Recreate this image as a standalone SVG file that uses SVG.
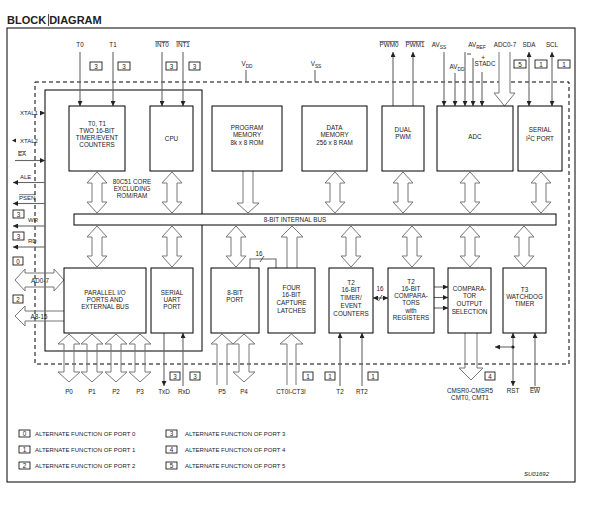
<svg xmlns="http://www.w3.org/2000/svg" width="589" height="506" viewBox="0 0 589 506">
<defs>
<style>
.t{font-family:"Liberation Sans",Arial,sans-serif;font-size:6.3px;fill:#222;text-anchor:middle}
.l{font-family:"Liberation Sans",Arial,sans-serif;font-size:6px;fill:#222}
.blk{fill:#fff;stroke:#000;stroke-width:1}
.ha{fill:#fff;stroke:#777;stroke-width:1}
.hn{fill:none;stroke:#777;stroke-width:1}
.sig{stroke:#666;stroke-width:1.1;fill:none}
.dash{fill:none;stroke:#000;stroke-width:1;stroke-dasharray:4,3}
.tag{fill:#fff;stroke:#000;stroke-width:0.8}
.ov{text-decoration:overline}
</style>
<marker id="ah" viewBox="0 0 10 10" refX="10" refY="5" markerWidth="5" markerHeight="5" orient="auto-start-reverse" markerUnits="userSpaceOnUse">
<path d="M0,0 L10,5 L0,10 z" fill="#222"/>
</marker>
</defs>
<rect width="589" height="506" fill="#fff"/>
<text x="7" y="24" style="font-family:'Liberation Sans',Arial,sans-serif;font-size:11px;font-weight:bold;fill:#222">BLOCK DIAGRAM</text>
<line x1="48.5" y1="14" x2="48.5" y2="26" stroke="#222" stroke-width="0.8"/>
<rect x="7" y="28" width="568" height="454" fill="none" stroke="#000" stroke-width="1"/>
<rect class="dash" x="35" y="82" width="534" height="282"/>
<g id="core"><rect x="45" y="90" width="157" height="261" fill="none" stroke="#000" stroke-width="1"/>
<text class="t" x="132" y="184">80C51 CORE</text><text class="t" x="132" y="191">EXCLUDING</text><text class="t" x="132" y="198">ROM/RAM</text></g>

<g id="connectors">
<line class="sig" x1="80" y1="52" x2="80" y2="106" marker-end="url(#ah)"/>
<line class="sig" x1="113" y1="52" x2="113" y2="106" marker-end="url(#ah)"/>
<line class="sig" x1="162" y1="52" x2="162" y2="106" marker-end="url(#ah)"/>
<line class="sig" x1="183" y1="52" x2="183" y2="106" marker-end="url(#ah)"/>
<line class="sig" x1="246" y1="70" x2="246" y2="82"/>
<line class="sig" x1="315" y1="70" x2="315" y2="82"/>
<line class="sig" x1="393" y1="106" x2="393" y2="52" marker-end="url(#ah)"/>
<line class="sig" x1="413" y1="106" x2="413" y2="52" marker-end="url(#ah)"/>
<line class="sig" x1="444" y1="52" x2="444" y2="106" marker-end="url(#ah)"/>
<line class="sig" x1="455" y1="73" x2="455" y2="106" marker-end="url(#ah)"/>
<line class="sig" x1="465" y1="52" x2="465" y2="106" marker-end="url(#ah)"/>
<line class="sig" x1="473" y1="58" x2="473" y2="106" marker-end="url(#ah)"/>
<line class="sig" x1="482" y1="72" x2="482" y2="106" marker-end="url(#ah)"/>
<path class="ha" d="M499,52 V93 H494 L504.5,106 L515,93 H510 V52"/>
<line class="sig" x1="529" y1="52" x2="529" y2="106" marker-start="url(#ah)" marker-end="url(#ah)"/>
<line class="sig" x1="552" y1="52" x2="552" y2="106" marker-start="url(#ah)" marker-end="url(#ah)"/>
<line class="sig" x1="40" y1="113" x2="45" y2="113" marker-end="url(#ah)"/>
<path d="M12,140.5 L16,138.5 L16,142.5 z" fill="#222"/>
<line class="sig" x1="15" y1="160.5" x2="45" y2="160.5" marker-end="url(#ah)"/>
<line class="sig" x1="45" y1="182.5" x2="13" y2="182.5" marker-end="url(#ah)"/>
<line class="sig" x1="45" y1="203.5" x2="13" y2="203.5" marker-end="url(#ah)"/>
<line class="sig" x1="45" y1="226" x2="13" y2="226" marker-end="url(#ah)"/>
<line class="sig" x1="45" y1="247" x2="13" y2="247" marker-end="url(#ah)"/>
<path class="hn" d="M15,280 L25,269 V273 H54 V269 L64,280 L54,291 V287 H25 V291 Z"/>
<path class="hn" d="M64,311 H25 V306 L15,316 L25,326 V321 H64"/>
<path class="ha" d="M97,172 L107,183 H102 V202 H107 L97,213 L87,202 H92 V183 H87 Z"/>
<path class="ha" d="M172,172 L182,183 H177 V202 H182 L172,213 L162,202 H167 V183 H162 Z"/>
<path class="ha" d="M243,171 V203 H237 L248,213 L259,203 H253 V171"/>
<path class="ha" d="M335,172 L345,183 H340 V202 H345 L335,213 L325,202 H330 V183 H325 Z"/>
<path class="ha" d="M403,172 L413,183 H408 V202 H413 L403,213 L393,202 H398 V183 H393 Z"/>
<path class="ha" d="M470,172 L480,183 H475 V202 H480 L470,213 L460,202 H465 V183 H460 Z"/>
<path class="ha" d="M541,172 L551,183 H546 V202 H551 L541,213 L531,202 H536 V183 H531 Z"/>
<path class="ha" d="M97,226 L107,237 H102 V256 H107 L97,267 L87,256 H92 V237 H87 Z"/>
<path class="ha" d="M172,226 L182,237 H177 V256 H182 L172,267 L162,256 H167 V237 H162 Z"/>
<path class="ha" d="M236,226 L246,237 H241 V256 H246 L236,267 L226,256 H231 V237 H226 Z"/>
<path class="ha" d="M287,268 V237 H281 L292,226 L303,237 H297 V268"/>
<path class="ha" d="M351,226 L361,237 H356 V256 H361 L351,267 L341,256 H346 V237 H341 Z"/>
<path class="ha" d="M412,226 L422,237 H417 V256 H422 L412,267 L402,256 H407 V237 H402 Z"/>
<path class="ha" d="M470,226 L480,237 H475 V256 H480 L470,267 L460,256 H465 V237 H460 Z"/>
<path class="ha" d="M524,226 L534,237 H529 V256 H534 L524,267 L514,256 H519 V237 H514 Z"/>
<path class="hn" d="M69,334 L80,344 H74 V372 H80 L69,382 L58,372 H64 V344 H58 Z"/>
<path class="hn" d="M92,334 L103,344 H97 V372 H103 L92,382 L81,372 H87 V344 H81 Z"/>
<path class="hn" d="M116,334 L127,344 H121 V372 H127 L116,382 L105,372 H111 V344 H105 Z"/>
<path class="hn" d="M140,334 L151,344 H145 V372 H151 L140,382 L129,372 H135 V344 H129 Z"/>
<line class="sig" x1="164" y1="333" x2="164" y2="386" marker-end="url(#ah)"/>
<line class="sig" x1="183" y1="386" x2="183" y2="333" marker-end="url(#ah)"/>
<path class="hn" d="M217,385 V344 H211 L222,334 L233,344 H227 V385"/>
<path class="hn" d="M244,334 L255,344 H249 V372 H255 L244,382 L233,372 H239 V344 H233 Z"/>
<path class="hn" d="M287,385 V344 H280 L291.5,334 L303,344 H296 V385"/>
<path class="sig" d="M250,268 V259 H276 V268"/>
<line x1="260" y1="262" x2="264" y2="256" stroke="#333" stroke-width="0.8"/>
<line class="sig" x1="340" y1="386" x2="340" y2="333" marker-end="url(#ah)"/>
<line class="sig" x1="362" y1="386" x2="362" y2="333" marker-end="url(#ah)"/>
<line class="sig" x1="373" y1="298" x2="388" y2="298" marker-start="url(#ah)" marker-end="url(#ah)"/>
<line x1="378.5" y1="301" x2="382" y2="295" stroke="#333" stroke-width="0.8"/>
<line class="sig" x1="434" y1="287" x2="448" y2="287" marker-end="url(#ah)"/>
<line class="sig" x1="434" y1="297.5" x2="448" y2="297.5" marker-end="url(#ah)"/>
<line class="sig" x1="434" y1="308" x2="448" y2="308" marker-end="url(#ah)"/>
<path class="hn" d="M465,333 V368 H459 L471,380 L483,368 H477 V333"/>
<line class="sig" x1="513" y1="347" x2="513" y2="333" marker-end="url(#ah)"/>
<line class="sig" x1="513" y1="347" x2="513" y2="386" marker-end="url(#ah)"/>
<line class="sig" x1="513" y1="347" x2="495" y2="347" marker-end="url(#ah)"/>
<circle cx="513" cy="347" r="1.6" fill="#222"/>
<line class="sig" x1="535" y1="386" x2="535" y2="333" marker-end="url(#ah)"/>
</g>

<g id="bus"><rect class="blk" x="74" y="214" width="482" height="11"/><text class="t" x="295" y="222">8-BIT INTERNAL BUS</text></g>
<g id="t0t1"><rect class="blk" x="69" y="106" width="56" height="65"/>
<text class="t" x="97" y="126">T0, T1</text><text class="t" x="97" y="133">TWO 16-BIT</text><text class="t" x="97" y="140">TIMER/EVENT</text><text class="t" x="97" y="147">COUNTERS</text></g>
<g id="cpu"><rect class="blk" x="150" y="106" width="43" height="65"/><text class="t" x="171.5" y="141">CPU</text></g>
<g id="progmem"><rect class="blk" x="212" y="106" width="70" height="65"/>
<text class="t" x="247" y="130">PROGRAM</text><text class="t" x="247" y="137">MEMORY</text><text class="t" x="247" y="145">8k x 8 ROM</text></g>
<g id="datamem"><rect class="blk" x="302" y="106" width="65" height="65"/>
<text class="t" x="334.5" y="130">DATA</text><text class="t" x="334.5" y="137">MEMORY</text><text class="t" x="334.5" y="145">256 x 8 RAM</text></g>
<g id="pwm"><rect class="blk" x="382" y="106" width="42" height="65"/>
<text class="t" x="403" y="132">DUAL</text><text class="t" x="403" y="139">PWM</text></g>
<g id="adc"><rect class="blk" x="437" y="106" width="76" height="65"/><text class="t" x="475" y="139">ADC</text></g>
<g id="i2c"><rect class="blk" x="518" y="106" width="44" height="65"/>
<text class="t" x="540" y="132">SERIAL</text><text class="t" x="540" y="141">I<tspan font-size="4.5" dy="-2.5">2</tspan><tspan dy="2.5">C PORT</tspan></text></g>
<g id="pio"><rect class="blk" x="64" y="268" width="82" height="65"/>
<text class="t" x="105" y="295">PARALLEL I/O</text><text class="t" x="105" y="302">PORTS AND</text><text class="t" x="105" y="309">EXTERNAL BUS</text></g>
<g id="uart"><rect class="blk" x="151" y="268" width="42" height="65"/>
<text class="t" x="172" y="295">SERIAL</text><text class="t" x="172" y="302">UART</text><text class="t" x="172" y="309">PORT</text></g>
<g id="port8"><rect class="blk" x="211" y="268" width="48" height="65"/>
<text class="t" x="235" y="295">8-BIT</text><text class="t" x="235" y="302">PORT</text></g>
<g id="latches"><rect class="blk" x="268" y="268" width="47" height="65"/>
<text class="t" x="291.5" y="290">FOUR</text><text class="t" x="291.5" y="297">16-BIT</text><text class="t" x="291.5" y="305">CAPTURE</text><text class="t" x="291.5" y="313">LATCHES</text></g>
<g id="t2"><rect class="blk" x="329" y="268" width="44" height="65"/>
<text class="t" x="351" y="285">T2</text><text class="t" x="351" y="292">16-BIT</text><text class="t" x="351" y="300">TIMER/</text><text class="t" x="351" y="308">EVENT</text><text class="t" x="351" y="316">COUNTERS</text></g>
<g id="cmp"><rect class="blk" x="388" y="268" width="46" height="65"/>
<text class="t" x="411" y="284">T2</text><text class="t" x="411" y="291">16-BIT</text><text class="t" x="411" y="298">COMPARA-</text><text class="t" x="411" y="305">TORS</text><text class="t" x="411" y="313">with</text><text class="t" x="411" y="320">REGISTERS</text></g>
<g id="cos"><rect class="blk" x="448" y="268" width="43" height="65"/>
<text class="t" x="469.5" y="291">COMPARA-</text><text class="t" x="469.5" y="298">TOR</text><text class="t" x="469.5" y="306">OUTPUT</text><text class="t" x="469.5" y="314">SELECTION</text></g>
<g id="t3"><rect class="blk" x="503" y="268" width="43" height="65"/>
<text class="t" x="524.5" y="292">T3</text><text class="t" x="524.5" y="299">WATCHDOG</text><text class="t" x="524.5" y="306">TIMER</text></g>

<g id="labels">
<text class="t" x="80" y="47">T0</text><text class="t" x="113" y="47">T1</text>
<text class="t ov" x="162" y="47">INT0</text><text class="t ov" x="183" y="47">INT1</text>
<text class="t" x="247" y="66">V<tspan font-size="4.8" dy="1.5">DD</tspan></text>
<text class="t" x="316" y="66">V<tspan font-size="4.8" dy="1.5">SS</tspan></text>
<text class="t ov" x="389" y="47" font-size="5.8">PWM0</text><text class="t ov" x="415" y="47" font-size="5.8">PWM1</text>
<text class="t" x="439" y="47">AV<tspan font-size="4.8" dy="1.5">SS</tspan></text>
<text class="t" x="457" y="69">AV<tspan font-size="4.8" dy="1.5">DD</tspan></text>
<text class="t" x="477" y="47">AV<tspan font-size="4.8" dy="1.5">REF</tspan></text>
<line x1="467" y1="54" x2="471" y2="54" stroke="#222" stroke-width="0.8"/>
<text class="t" x="483" y="60">+</text>
<text class="t" x="485" y="66">STADC</text>
<text class="t" x="505" y="47">ADC0-7</text>
<text class="t" x="529" y="47">SDA</text><text class="t" x="552" y="47">SCL</text>
<text class="l" x="20" y="115">XTAL1</text>
<text class="l" x="20" y="142.5">XTAL2</text>
<text class="l ov" x="18" y="156">EA</text>
<text class="l" x="20" y="179">ALE</text>
<text class="l ov" x="19" y="199.5">PSEN</text>
<text class="l" x="28" y="221.5">WR</text>
<text class="l" x="28" y="242.5">RD</text>
<text class="t" x="40" y="283">AD0-7</text>
<text class="t" x="39" y="318.5">A8-15</text>
<text class="t" x="69" y="394">P0</text><text class="t" x="92" y="394">P1</text><text class="t" x="116" y="394">P2</text><text class="t" x="140" y="394">P3</text>
<text class="t" x="164" y="394">TxD</text><text class="t" x="184" y="394">RxD</text>
<text class="t" x="222" y="394">P5</text><text class="t" x="244" y="394">P4</text>
<text class="t" x="291" y="394">CT0I-CT3I</text>
<text class="t" x="340" y="394">T2</text><text class="t" x="362" y="394">RT2</text>
<text class="t" x="259" y="256">16</text>
<text class="t" x="380" y="291">16</text>
<text class="t" x="470" y="393">CMSR0-CMSR5</text><text class="t" x="470" y="400">CMT0, CMT1</text>
<text class="t" x="513" y="393">RST</text><text class="t ov" x="535" y="393">EW</text>
</g>

<g id="tags">
<rect class="tag" x="90" y="62" width="12" height="8"/><text class="t" x="96" y="68.5">3</text>
<rect class="tag" x="118" y="62" width="12" height="8"/><text class="t" x="124" y="68.5">3</text>
<rect class="tag" x="166" y="62" width="11" height="8"/><text class="t" x="171.5" y="68.5">3</text>
<rect class="tag" x="189" y="62" width="11" height="8"/><text class="t" x="194.5" y="68.5">3</text>
<rect class="tag" x="514" y="60" width="12" height="8"/><text class="t" x="520" y="66.5">5</text>
<rect class="tag" x="535" y="60" width="12" height="8"/><text class="t" x="541" y="66.5">1</text>
<rect class="tag" x="558" y="60" width="12" height="8"/><text class="t" x="564" y="66.5">1</text>
<rect class="tag" x="13" y="210" width="11" height="8"/><text class="t" x="18.5" y="216.5">3</text>
<rect class="tag" x="13" y="232" width="11" height="8"/><text class="t" x="18.5" y="238.5">3</text>
<rect class="tag" x="13" y="257" width="10" height="8"/><text class="t" x="18" y="263.5">0</text>
<rect class="tag" x="13" y="295" width="10" height="8"/><text class="t" x="18" y="301.5">2</text>
<rect class="tag" x="170" y="372" width="10" height="8"/><text class="t" x="175" y="378.5">3</text>
<rect class="tag" x="190" y="372" width="10" height="8"/><text class="t" x="195" y="378.5">3</text>
<rect class="tag" x="303" y="372" width="10" height="8"/><text class="t" x="308" y="378.5">1</text>
<rect class="tag" x="325" y="372" width="10" height="8"/><text class="t" x="330" y="378.5">1</text>
<rect class="tag" x="368" y="372" width="10" height="8"/><text class="t" x="373" y="378.5">1</text>
<rect class="tag" x="485" y="372" width="10" height="8"/><text class="t" x="490" y="378.5">4</text>
</g>

<g id="legend">
<rect class="tag" x="19" y="430" width="11" height="7"/><text class="t" x="24.5" y="435.5">0</text>
<text class="l" x="35" y="435.5">ALTERNATE FUNCTION OF PORT 0</text>
<rect class="tag" x="19" y="446" width="11" height="7"/><text class="t" x="24.5" y="451.5">1</text>
<text class="l" x="35" y="451.5">ALTERNATE FUNCTION OF PORT 1</text>
<rect class="tag" x="19" y="462" width="11" height="7"/><text class="t" x="24.5" y="467.5">2</text>
<text class="l" x="35" y="467.5">ALTERNATE FUNCTION OF PORT 2</text>
<rect class="tag" x="166" y="430" width="11" height="7"/><text class="t" x="171.5" y="435.5">3</text>
<text class="l" x="185" y="435.5">ALTERNATE FUNCTION OF PORT 3</text>
<rect class="tag" x="166" y="446" width="11" height="7"/><text class="t" x="171.5" y="451.5">4</text>
<text class="l" x="185" y="451.5">ALTERNATE FUNCTION OF PORT 4</text>
<rect class="tag" x="166" y="462" width="11" height="7"/><text class="t" x="171.5" y="467.5">5</text>
<text class="l" x="185" y="467.5">ALTERNATE FUNCTION OF PORT 5</text>
<text class="l" x="524" y="476" font-style="italic">SU01692</text>
</g>
</svg>
